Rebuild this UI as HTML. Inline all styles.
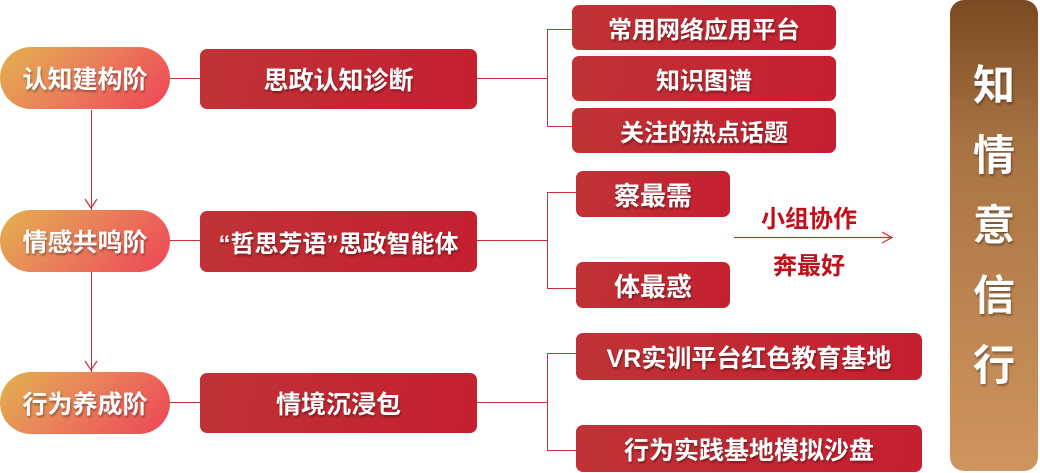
<!DOCTYPE html>
<html><head><meta charset="utf-8"><style>
body{margin:0;width:1040px;height:473px;background:#fff;position:relative;overflow:hidden;font-family:"Liberation Sans","Noto Sans CJK SC",sans-serif;font-weight:bold}
.p{position:absolute;left:0;width:170px;height:62px;border-radius:31px;background:linear-gradient(135deg,#e2b24e 0%,#e9825a 45%,#ee4456 100%);color:#fff;font-size:25px;display:flex;align-items:center;justify-content:center;text-shadow:1px 2px 2px rgba(0,0,0,.35)}
.b{position:absolute;background:linear-gradient(100deg,#c03335,#c51f30);border-radius:7px;color:#fff;display:flex;align-items:center;justify-content:center;text-shadow:1px 2px 2px rgba(0,0,0,.35);font-size:24px}
.l{position:absolute;background:#c8313a}
</style></head><body>
<div class="l" style="left:170px;top:78px;width:30px;height:1px"></div>
<div class="l" style="left:170px;top:240px;width:30px;height:1px"></div>
<div class="l" style="left:170px;top:402px;width:30px;height:1px"></div>
<div class="l" style="left:91px;top:110px;width:1px;height:100px"></div>
<div class="l" style="left:91px;top:272px;width:1px;height:100px"></div>
<svg style="position:absolute;left:0;top:0" width="1040" height="473">
<polyline points="85,199 91,208 97,199" fill="none" stroke="#c8313a" stroke-width="1.2"/>
<polyline points="85,361 91,370 97,361" fill="none" stroke="#c8313a" stroke-width="1.2"/>
<line x1="734" y1="237.5" x2="892" y2="237.5" stroke="#c8313a" stroke-width="1.2"/>
<polyline points="882,232 892,237.5 882,243" fill="none" stroke="#c8313a" stroke-width="1.2"/>
</svg>
<div class="l" style="left:477px;top:78px;width:70px;height:1px"></div>
<div class="l" style="left:547px;top:29px;width:1px;height:97px"></div>
<div class="l" style="left:547px;top:29px;width:25px;height:1px"></div>
<div class="l" style="left:547px;top:126px;width:25px;height:1px"></div>
<div class="l" style="left:477px;top:240px;width:70px;height:1px"></div>
<div class="l" style="left:547px;top:192px;width:1px;height:96px"></div>
<div class="l" style="left:547px;top:192px;width:29px;height:1px"></div>
<div class="l" style="left:547px;top:288px;width:29px;height:1px"></div>
<div class="l" style="left:477px;top:402px;width:70px;height:1px"></div>
<div class="l" style="left:547px;top:353px;width:1px;height:97px"></div>
<div class="l" style="left:547px;top:353px;width:29px;height:1px"></div>
<div class="l" style="left:547px;top:450px;width:29px;height:1px"></div>
<div class="p" style="top:47px">认知建构阶</div>
<div class="p" style="top:210px">情感共鸣阶</div>
<div class="p" style="top:372px">行为养成阶</div>
<div class="b" style="left:200px;top:49px;width:277px;height:60px;font-size:25px">思政认知诊断</div>
<div class="b" style="left:200px;top:211px;width:277px;height:61px">“哲思芳语”思政智能体</div>
<div class="b" style="left:200px;top:373px;width:277px;height:60px;font-size:25px">情境沉浸包</div>
<div class="b" style="left:572px;top:5px;width:264px;height:45px">常用网络应用平台</div>
<div class="b" style="left:572px;top:56px;width:264px;height:45px">知识图谱</div>
<div class="b" style="left:572px;top:108px;width:264px;height:45px">关注的热点话题</div>
<div class="b" style="left:576px;top:171px;width:154px;height:46px;font-size:26px">察最需</div>
<div class="b" style="left:576px;top:262px;width:154px;height:46px;font-size:26px">体最惑</div>
<div class="b" style="left:576px;top:333px;width:346px;height:47px;font-size:25px">VR实训平台红色教育基地</div>
<div class="b" style="left:576px;top:425px;width:346px;height:47px;font-size:25px">行为实践基地模拟沙盘</div>
<div style="position:absolute;left:734px;top:199px;width:150px;text-align:center;color:#c0101c;font-size:24px">小组协作</div>
<div style="position:absolute;left:734px;top:246px;width:150px;text-align:center;color:#c0101c;font-size:24px">奔最好</div>
<div style="position:absolute;left:950px;top:0;width:88px;height:471px;border-radius:14px;background:linear-gradient(180deg,#7a4a22 0%,#a87343 30%,#cf955e 100%);color:#fff;font-size:42px;display:flex;flex-direction:column;align-items:center;justify-content:center;gap:28px;line-height:1;text-shadow:1px 2px 2px rgba(0,0,0,.35);padding-bottom:20px;box-sizing:border-box">
<span>知</span><span>情</span><span>意</span><span>信</span><span>行</span></div>
</body></html>
